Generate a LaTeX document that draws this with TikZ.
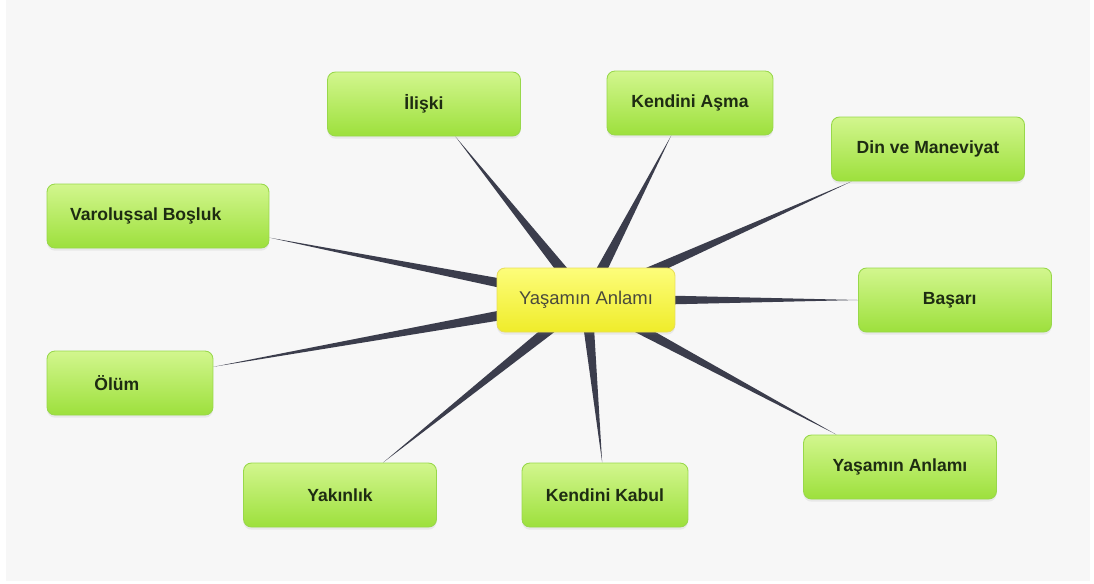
\documentclass[tikz,border=0pt]{standalone}
\usepackage{fontspec}
\setmainfont{Liberation Sans}
\usetikzlibrary{calc,shadows,backgrounds}
\definecolor{paper}{HTML}{F7F7F7}
\definecolor{leaftop}{HTML}{D2F68E}
\definecolor{leafbot}{HTML}{9DE03C}
\definecolor{leafline}{HTML}{98D84A}
\definecolor{leaftext}{HTML}{1E2C12}
\definecolor{hubtop}{HTML}{FDFD7A}
\definecolor{hubbot}{HTML}{EFEC2A}
\definecolor{hubline}{HTML}{E8DE5A}
\definecolor{hubtext}{HTML}{4A4A3C}
\definecolor{spokecol}{HTML}{3B3D4C}

\begin{document}
\begin{tikzpicture}[
  x=0.02cm,y=-0.02cm,
  topic/.style={draw=leafline,line width=0.5pt,rounded corners=4.5pt,top color=leaftop,bottom color=leafbot,minimum width=3.86cm,minimum height=1.28cm,inner sep=2pt,text=leaftext,font=\fontsize{10}{12}\selectfont\bfseries,drop shadow={shadow xshift=0pt,shadow yshift=-1.5pt,opacity=0.12}},
  hub/.style={draw=hubline,line width=0.5pt,rounded corners=4.5pt,top color=hubtop,bottom color=hubbot,minimum width=3.56cm,minimum height=1.28cm,inner sep=2pt,text=hubtext,font=\fontsize{10.5}{12}\selectfont,drop shadow={shadow xshift=0pt,shadow yshift=-1.5pt,opacity=0.12}},
  spoke/.style={fill=spokecol}
]
\useasboundingbox (0,0) rectangle (1094,583);
\begin{scope}[on background layer]
\fill[white] (0,0) rectangle (1094,583);
\fill[paper] (6,0) rectangle (1090,581);
\end{scope}

\node[hub] (n0) at (586,300) {Yaşamın Anlamı};
\node[topic] (n1) at (424,104) {İlişki};
\node[topic,minimum width=3.32cm] (n2) at (690,103) {Kendini Aşma};
\node[topic] (n3) at (928,149) {Din ve Maneviyat};
\node[topic,minimum width=4.44cm] (n4) at (158,216) {\hspace*{-14pt}Varoluşsal Boşluk};
\node[topic] (n5) at (955,300) {\hspace*{-6pt}Başarı};
\node[topic,minimum width=3.32cm] (n6) at (130,383) {\hspace*{-15pt}Ölüm};
\node[topic] (n7) at (340,495) {Yakınlık};
\node[topic,minimum width=3.32cm] (n8) at (605,495) {Kendini Kabul};
\node[topic] (n9) at (900,467) {Yaşamın Anlamı};

% tapered spokes from the hub
\begin{scope}[on background layer]
\fill[spoke] ($(n0.center)!3.6pt!90:(n1.-46)$) -- (n1.-46) -- ($(n0.center)!3.6pt!-90:(n1.-46)$) -- cycle;
\fill[spoke] ($(n0.center)!3.6pt!90:(n2.-120)$) -- (n2.-120) -- ($(n0.center)!3.6pt!-90:(n2.-120)$) -- cycle;
\fill[spoke] ($(n0.center)!3.6pt!90:(n3.-157)$) -- (n3.-157) -- ($(n0.center)!3.6pt!-90:(n3.-157)$) -- cycle;
\fill[spoke] ($(n0.center)!3.6pt!90:(n4.-11)$) -- (n4.-11) -- ($(n0.center)!3.6pt!-90:(n4.-11)$) -- cycle;
\fill[spoke] ($(n0.center)!3.6pt!90:(n5.west)$) -- (n5.west) -- ($(n0.center)!3.6pt!-90:(n5.west)$) -- cycle;
\fill[spoke] ($(n0.center)!3.6pt!90:(n6.11)$) -- (n6.11) -- ($(n0.center)!3.6pt!-90:(n6.11)$) -- cycle;
\fill[spoke] ($(n0.center)!3.6pt!90:(n7.37)$) -- (n7.37) -- ($(n0.center)!3.6pt!-90:(n7.37)$) -- cycle;
\fill[spoke] ($(n0.center)!3.6pt!90:(n8.95)$) -- (n8.95) -- ($(n0.center)!3.6pt!-90:(n8.95)$) -- cycle;
\fill[spoke] ($(n0.center)!3.6pt!90:(n9.153)$) -- (n9.153) -- ($(n0.center)!3.6pt!-90:(n9.153)$) -- cycle;
\end{scope}
\end{tikzpicture}
\end{document}
